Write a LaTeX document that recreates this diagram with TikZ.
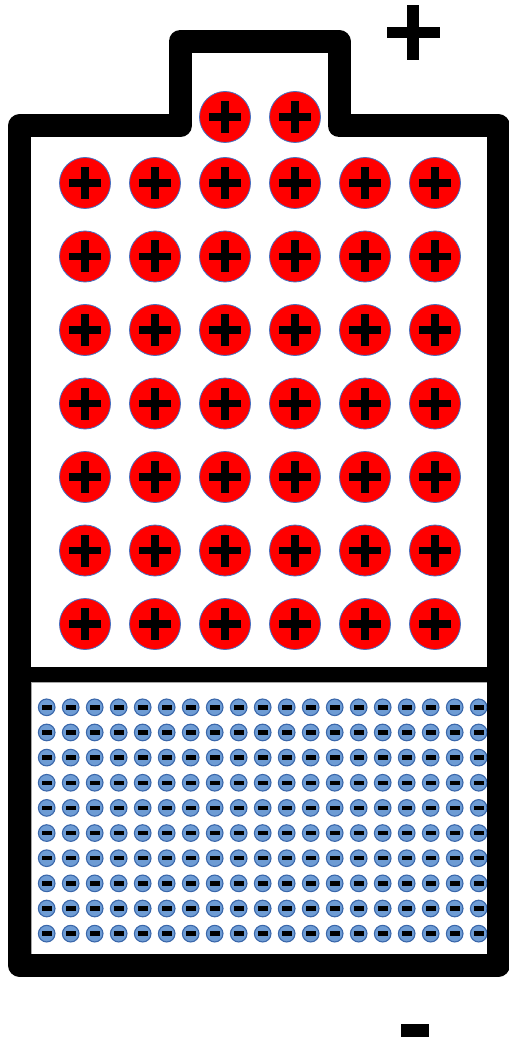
\documentclass[tikz,border=0pt]{standalone}
\definecolor{ionred}{RGB}{255,0,0}
\definecolor{ionedge}{RGB}{68,114,196}
\definecolor{elecfill}{RGB}{110,156,212}
\definecolor{elecedge}{RGB}{58,103,170}
\tikzset{
  casing/.style={draw=black, line width=23pt, line join=round},
  posion/.style={circle, fill=ionred, draw=ionedge, line width=0.8pt, minimum size=51pt, inner sep=0pt,
    path picture={
      \fill[black] ([xshift=-16pt,yshift=-3.6pt]path picture bounding box.center) rectangle ([xshift=16pt,yshift=3.6pt]path picture bounding box.center);
      \fill[black] ([xshift=-3.6pt,yshift=-16pt]path picture bounding box.center) rectangle ([xshift=3.6pt,yshift=16pt]path picture bounding box.center);
    }},
  negion/.style={circle, fill=elecfill, draw=elecedge, line width=1.1pt, minimum size=16.6pt, inner sep=0pt,
    path picture={
      \fill[black] ([xshift=-5pt,yshift=-2.2pt]path picture bounding box.center) rectangle ([xshift=5pt,yshift=2.2pt]path picture bounding box.center);
    }},
  sign/.style={fill=black},
  thinedge/.style={draw=gray!70, line width=0.6pt}
}
\begin{document}
\begin{tikzpicture}[x=1pt,y=-1pt]
\useasboundingbox (0,0) rectangle (508,1040);
\fill[white] (0,0) rectangle (508,1040);
% lower compartment outline
\draw[thinedge] (31,682) rectangle (488,954);
% positive ions
\node[posion] (pt-1) at (225,117) {};
\node[posion] (pt-2) at (295,117) {};
\foreach \i in {0,...,5}
  \foreach \j in {0,...,6}
    \node[posion] (p-\i-\j) at ({85+70*\i},{183+73.5*\j}) {};
% electrons
\foreach \i in {0,...,18}
  \foreach \j in {0,...,9}
    \node[negion] (n-\i-\j) at ({46.7+24*\i},{707.3+25.15*\j}) {};
% divider
\fill[black] (31,667) rectangle (488,682);
% casing
\draw[casing] (19.5,965) -- (19.5,126) -- (180,126) -- (180,41.5) -- (339,41.5) -- (339,126) -- (498.5,126) -- (498.5,965) -- cycle;
% terminal signs
\fill[sign] (387,27) rectangle (440,38);
\fill[sign] (407,5) rectangle (419,60);
\fill[sign] (401,1024) rectangle (429,1037);
\end{tikzpicture}
\end{document}
